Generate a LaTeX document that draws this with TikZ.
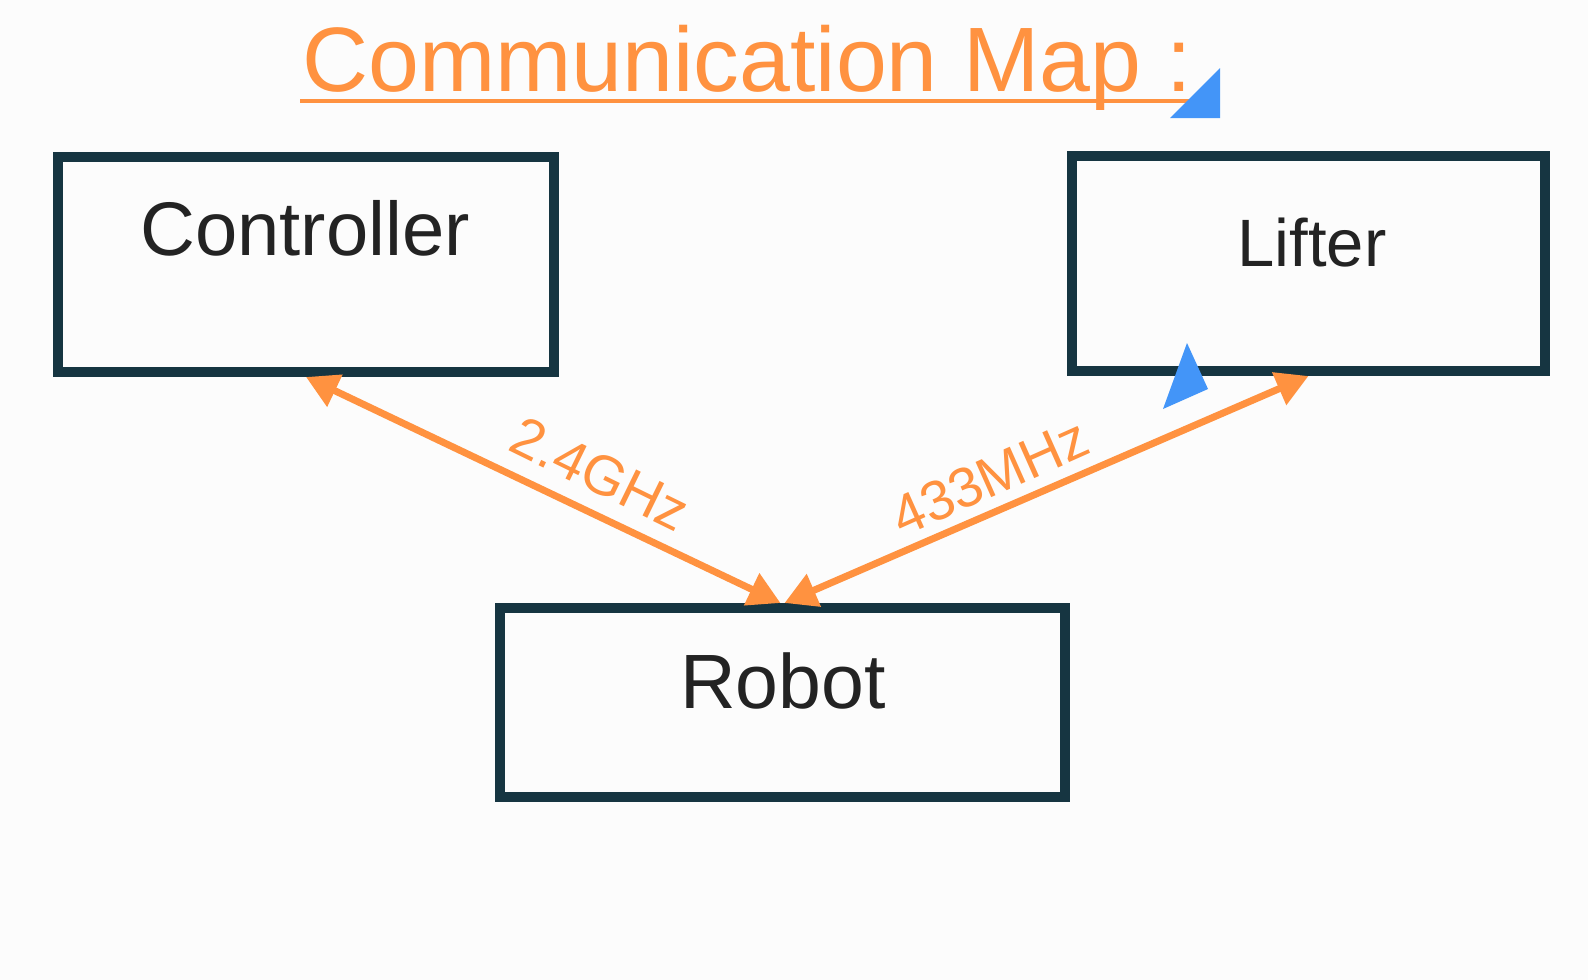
\documentclass[tikz,border=0pt]{standalone}
\usepackage{fontspec}
\setmainfont{Liberation Sans}
\usepackage{tikz}
\usetikzlibrary{arrows.meta,positioning,calc}
\definecolor{boxline}{HTML}{163541}
\definecolor{wireorange}{HTML}{FF9240}
\definecolor{markblue}{HTML}{4395F8}
\definecolor{inktext}{HTML}{232323}
\definecolor{paper}{HTML}{FCFCFC}

\begin{document}
\begin{tikzpicture}[x=1pt,y=-1pt,
 box/.style={draw=boxline,line width=10pt,inner sep=0pt},
 boxtext/.style={text=inktext,font=\fontsize{76}{86}\selectfont},
 link/.style={draw=wireorange,line width=7pt,{Triangle[length=32pt,width=34pt]}-{Triangle[length=32pt,width=34pt]}},
 freq/.style={text=wireorange,font=\fontsize{56}{62}\selectfont,inner sep=0pt}]
\fill[paper] (0,0) rectangle (1588,980);
\useasboundingbox (0,0) rectangle (1588,980);
% title
\node[anchor=base west,inner sep=0pt,text=wireorange,font=\fontsize{91.5}{100}\selectfont] (title) at (302,91) {Communication Map :};
\draw[wireorange,line width=4pt] ([xshift=-2pt,yshift=-10pt]title.base west) -- ([xshift=4pt,yshift=-10pt]title.base east);
% boxes
\node[box,minimum width=496pt,minimum height=215pt] (ctrl) at (306,264.5) {};
\node[box,minimum width=473pt,minimum height=215pt] (lifter) at (1308.5,263.5) {};
\node[box,minimum width=565pt,minimum height=189pt] (robot) at (782.5,702.5) {};
\node[boxtext] (ctrltxt) at (305,228) {Controller};
\node[boxtext,font=\fontsize{67}{76}\selectfont] (liftertxt) at (1312,243) {Lifter};
\node[boxtext,font=\fontsize{77}{86}\selectfont] (robottxt) at (783,681) {Robot};
% links
\draw[link] (ctrl.south) -- ([xshift=-2pt]robot.north);
\draw[link] ([xshift=2pt]robot.north) -- (lifter.south);
\node[freq,rotate=-26.1] (ghz) at (600,474) {2.4GHz};
\node[freq,rotate=24] (mhz) at (990,477) {433MHz};
% blue markers
\fill[markblue] (1220,68) -- (1170,118) -- (1220,118) -- cycle;
\fill[markblue] (1187,343) -- (1208,389) -- (1163,409) -- cycle;
\end{tikzpicture}
\end{document}
